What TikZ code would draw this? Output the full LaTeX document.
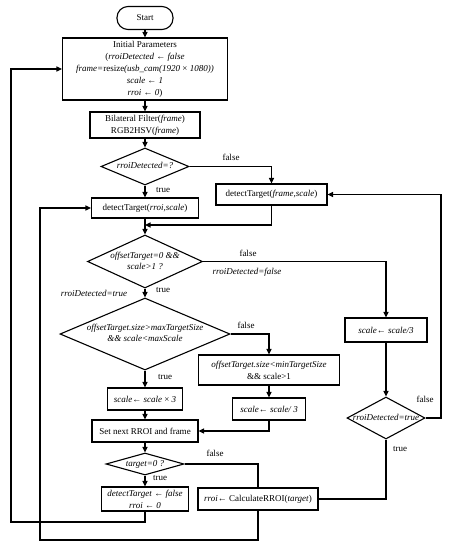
\documentclass[tikz,border=0pt]{standalone}
\usepackage{fontspec}
\setmainfont{Liberation Serif}
\usetikzlibrary{arrows.meta,shapes.geometric}
\tikzset{
  box/.style={draw, line width=1.1pt, rectangle, inner sep=0pt, align=center},
  dia/.style={draw, line width=1.1pt, diamond, inner sep=0pt},
  conn/.style={line width=1.1pt},
  arr/.style={conn, -{Triangle[length=5.5pt,width=5pt]}},
  lbl/.style={inner sep=0pt},
}
\newcommand{\dtxt}[1]{\makebox[0pt]{\raisebox{-2.5pt}[0pt][0pt]{\renewcommand\arraystretch{0.92}\begin{tabular}{@{}c@{}}#1\end{tabular}}}}
\begin{document}
\begin{tikzpicture}[x=1pt,y=-1pt,font=\fontsize{9}{12}\selectfont]
\useasboundingbox (0,0) rectangle (452,550);
% main column
\node[box, rounded corners=11pt, minimum width=56pt, minimum height=23pt] (start) at (145,18) {Start};
\node[box, minimum width=165pt, minimum height=62pt] (init) at (145,69)
  {Initial Parameters\\(\textit{rroiDetected} ← \textit{false}\\\textit{frame=}resize\textit{(usb\_cam(1920} × \textit{1080))}\\\textit{scale} ← \textit{1}\\\textit{rroi} ← \textit{0})};
\node[box, minimum width=110pt, minimum height=26pt] (bil) at (145,125)
  {Bilateral Filter(\textit{frame})\\RGB2HSV(\textit{frame})};
\node[dia, minimum width=88pt, minimum height=37pt] (d1) at (145,166.5) {\dtxt{\textit{rroiDetected=?}}};
\node[box, minimum width=107pt, minimum height=20pt] (dtr) at (145,208) {detectTarget(\textit{rroi,scale})};
\node[box, minimum width=111pt, minimum height=21pt] (dtf) at (271.5,194.5) {detectTarget(\textit{frame,scale})};
\node[dia, minimum width=115pt, minimum height=53pt] (d2) at (145,261.5) {\dtxt{\textit{offsetTarget=0 \&\&}\\\textit{scale>1 ?}}};
\node[dia, minimum width=170pt, minimum height=72pt] (d3) at (145,334) {\dtxt{\textit{offsetTarget.size>maxTargetSize}\\\textit{\&\& scale<maxScale}}};
\node[box, minimum width=141pt, minimum height=30pt] (bmin) at (269,370) {\textit{offsetTarget.size<minTargetSize}\\\&\& scale>1};
\node[box, minimum width=82pt, minimum height=24pt] (sr) at (386,330) {\textit{scale← scale/3}};
\node[box, minimum width=75pt, minimum height=22pt] (smul) at (145,399) {\textit{scale← scale} × \textit{3}};
\node[box, minimum width=73pt, minimum height=22pt] (smid) at (269,409) {\textit{scale← scale/ 3}};
\node[box, minimum width=106pt, minimum height=22pt] (setn) at (145,431) {Set next RROI and frame};
\node[dia, minimum width=78pt, minimum height=22pt] (d4) at (145,464) {\dtxt{\textit{target=0 ?}}};
\node[box, minimum width=87pt, minimum height=24pt] (dtfalse) at (145,499) {\textit{detectTarget} ← \textit{false}\\\textit{rroi} ← \textit{0}};
\node[box, minimum width=120pt, minimum height=22pt] (calc) at (258,499) {\textit{rroi}← CalculateRROI(\textit{target})};
\node[dia, minimum width=78pt, minimum height=42pt] (d5) at (386,418) {\dtxt{\textit{rroiDetected=true}}};
% labels
\node[lbl] (t1) at (163,190) {true};
\node[lbl] (f1) at (231,157) {false};
\node[lbl] (f2) at (248,253) {false};
\node[lbl] (rf) at (247,272) {\textit{rroiDetected=false}};
\node[lbl] (rt) at (94,293) {\textit{rroiDetected=true}};
\node[lbl] (t2) at (163,290) {true};
\node[lbl] (f3) at (246,325) {false};
\node[lbl] (t3) at (165,377) {true};
\node[lbl] (f4) at (425,399) {false};
\node[lbl] (t4) at (400,449) {true};
\node[lbl] (f5) at (215,453) {false};
\node[lbl] (t5) at (160,478) {true};
% helper coordinates
\coordinate (j1) at (145,225);
\coordinate (rr) at (441,300);
\coordinate (lo1) at (11,522);
\coordinate (lo2) at (40,540);
% connectors
\draw[arr] (start) -- (init);
\draw[arr] (init) -- (bil);
\draw[arr] (bil) -- (d1);
\draw[arr] (d1) -- (dtr);
\draw[arr] (d1.east) -| (dtf.north);
\draw[arr] (dtr) -- (d2);
\draw[arr] (dtf.south) |- (j1);
\draw[arr] (d2) -- (d3);
\draw[arr] (d2.east) -| (sr.north);
\draw[arr] (sr) -- (d5);
\draw[arr] (d5.east) -- (d5.east -| rr) |- (dtf.east);
\draw[conn] (d5.south) |- (calc.east);
\draw[arr] (d3) -- (smul);
\draw[arr] (d3.east) -| (bmin.north);
\draw[arr] (bmin) -- (smid);
\draw[arr] (smid.south) |- (setn.east);
\draw[arr] (smul) -- (setn);
\draw[arr] (setn) -- (d4);
\draw[arr] (d4) -- (dtfalse);
\draw[conn] (d4.east) -| (calc.north);
\draw[arr] (dtfalse.south) |- (lo1) |- (init.west);
\draw[arr] (calc.south) |- (lo2) |- (dtr.west);
\end{tikzpicture}
\end{document}
